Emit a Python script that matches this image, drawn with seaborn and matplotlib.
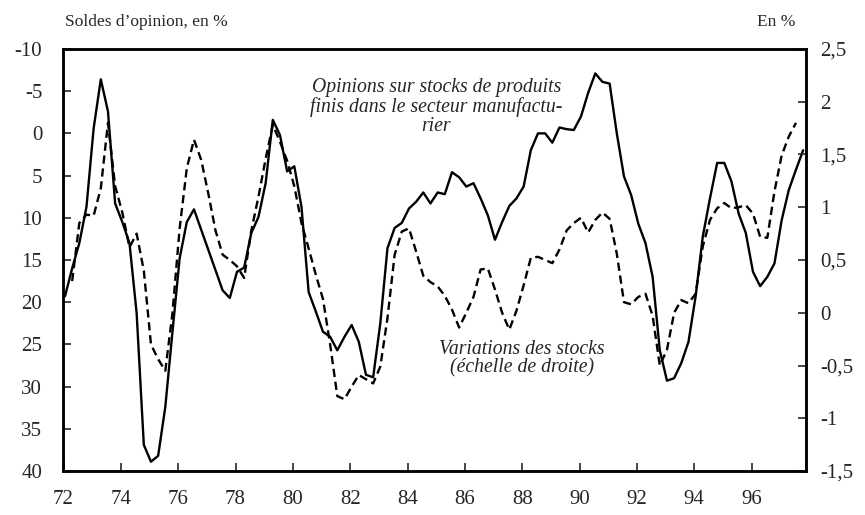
import numpy as np
import pandas as pd
import matplotlib
matplotlib.use("Agg")
import matplotlib.pyplot as plt
from matplotlib.ticker import FuncFormatter
import seaborn as sns

# Quarterly data, 1972 Q1 - 1997 Q4
opinions = [19.3, 16.0, 13.0, 8.7, -0.6, -6.4, -2.6, 8.3,
            10.5, 13.0, 21.3, 36.9, 38.9, 38.2, 32.4, 23.5,
            14.8, 10.5, 9.0, 11.4, 13.8, 16.2, 18.6, 19.5,
            16.4, 15.9, 11.8, 9.9, 5.9, -1.6, 0.2, 4.5,
            3.9, 8.7, 18.8, 21.1, 23.5, 24.1, 25.7, 24.1,
            22.7, 24.7, 28.6, 28.9, 22.5, 13.6, 11.2, 10.6,
            8.9, 8.1, 7.0, 8.3, 7.0, 7.2, 4.6, 5.2,
            6.3, 5.9, 7.7, 9.7, 12.6, 10.5, 8.6, 7.7,
            6.3, 2.0, 0.0, 0.0, 1.1, -0.7, -0.5, -0.4,
            -2.0, -4.8, -7.1, -6.1, -5.9, 0.0, 5.1, 7.3,
            10.7, 13.0, 17.0, 25.7, 29.3, 29.0, 27.2, 24.7,
            19.3, 12.2, 7.7, 3.5, 3.5, 5.7, 9.5, 11.8,
            16.4, 18.1, 17.0, 15.4, 10.3, 6.7, 4.3, 2.0]

# Variations des stocks, 1972 Q2 - 1997 Q3 (right scale)
variations = [0.30, 0.85, 0.93, 0.92, 1.18, 1.80, 1.20,
              0.95, 0.62, 0.75, 0.40, -0.30, -0.44, -0.55, 0.00,
              0.80, 1.37, 1.64, 1.45, 1.13, 0.78, 0.55, 0.50,
              0.44, 0.33, 0.78, 1.10, 1.46, 1.78, 1.62, 1.44,
              1.20, 0.85, 0.61, 0.36, 0.13, -0.30, -0.79, -0.82,
              -0.70, -0.59, -0.63, -0.67, -0.51, -0.05, 0.55, 0.77,
              0.80, 0.58, 0.35, 0.29, 0.25, 0.16, 0.03, -0.14,
              0.00, 0.15, 0.41, 0.42, 0.22, 0.00, -0.16, 0.02,
              0.26, 0.52, 0.53, 0.50, 0.47, 0.60, 0.78, 0.85,
              0.90, 0.76, 0.88, 0.95, 0.89, 0.56, 0.10, 0.08,
              0.15, 0.18, -0.03, -0.50, -0.35, 0.00, 0.12, 0.09,
              0.18, 0.63, 0.88, 0.99, 1.04, 0.99, 1.00, 1.02,
              0.94, 0.72, 0.71, 1.15, 1.49, 1.67, 1.80]

years_op = 72 + 0.25 * np.arange(len(opinions)) + 0.05
years_var = 72.25 + 0.25 * np.arange(len(variations)) + 0.05

df_op = pd.DataFrame({"annee": years_op, "solde": opinions})
df_var = pd.DataFrame({"annee": years_var, "variation": variations})

sns.set_style("ticks")
plt.rcParams["font.family"] = ["Liberation Serif", "DejaVu Serif"]
plt.rcParams["axes.unicode_minus"] = False

fig = plt.figure(figsize=(8.65, 5.15), dpi=100)
ax = fig.add_axes([0.0728, 0.0854, 0.8590, 0.8195])
ax2 = ax.twinx()

sns.lineplot(data=df_op, x="annee", y="solde", ax=ax, color="black", lw=1.7)
sns.lineplot(data=df_var, x="annee", y="variation", ax=ax2, color="black",
             lw=1.7, linestyle=(0, (3.5, 2)))

ax.set_xlim(71.98, 97.9)
ax.set_ylim(40, -10)
ax2.set_ylim(-1.5, 2.5)

ax.set_xticks(np.arange(72, 97, 2))
ax.set_xticklabels([str(y) for y in range(72, 97, 2)])
ax.set_yticks(np.arange(-10, 41, 5))
ax.set_yticklabels([str(v) for v in range(-10, 41, 5)])
ax2.set_yticks(np.arange(-1.5, 2.51, 0.5))
ax2.yaxis.set_major_formatter(FuncFormatter(lambda v, p: f"{v:g}".replace(".", ",")))

for a in (ax, ax2):
    a.set_xlabel("")
    a.set_ylabel("")
    for s in a.spines.values():
        s.set_visible(True)
        s.set_linewidth(1.8)
        s.set_color("black")

ax.tick_params(axis="x", direction="in", length=6, width=1.2, pad=14, labelsize=15)
ax.tick_params(axis="y", direction="in", length=6, width=1.2, pad=15, labelsize=15)
ax2.tick_params(axis="y", direction="in", length=6, width=1.2, pad=10, labelsize=15)

fig.text(0.0755, 0.957, "Soldes d\u2019opinion, en %", fontsize=12.5, ha="left", va="center")
fig.text(0.920, 0.957, "En %", fontsize=12.5, ha="right", va="center")

ax.text(85.0, -3.1, "Opinions sur stocks de produits\nfinis dans le secteur manufactu-\nrier",
        fontsize=14.2, style="italic", ha="center", va="center", linespacing=1.0)
ax.text(88.0, 26.7, "Variations des stocks\n(\u00e9chelle de droite)",
        fontsize=14.2, style="italic", ha="center", va="center", linespacing=1.0)

fig.savefig("out.png", dpi=100)
